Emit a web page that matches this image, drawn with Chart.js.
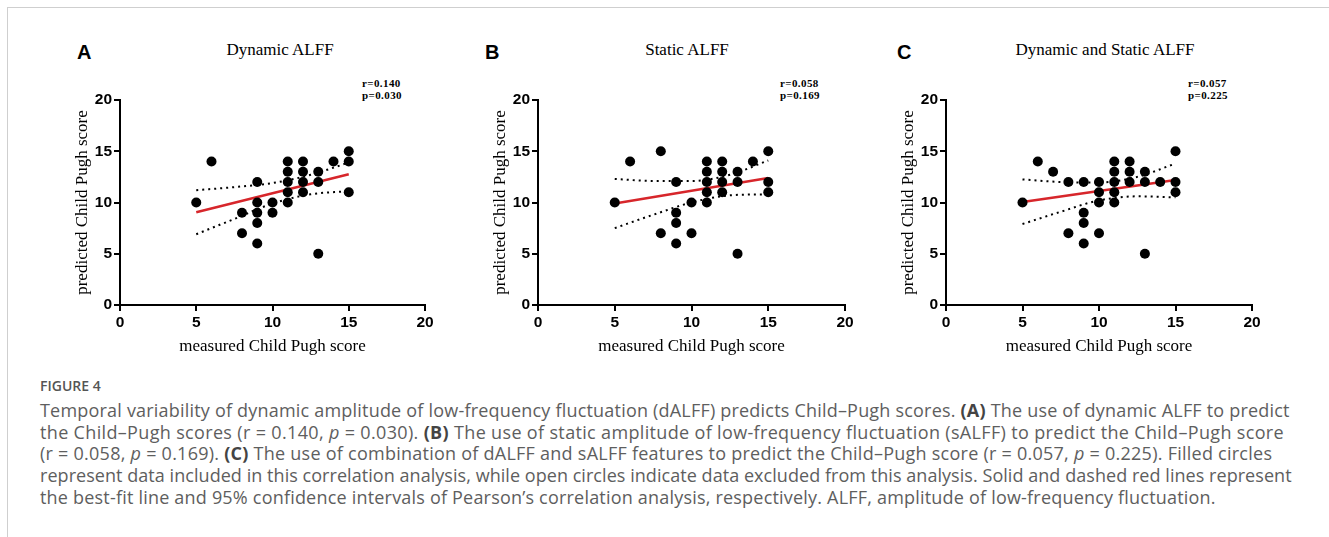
<!DOCTYPE html>
<html>
<head>
<meta charset="utf-8">
<script src="https://cdn.jsdelivr.net/npm/chart.js@4.4.1/dist/chart.umd.min.js"></script>
<style>
  html, body { margin: 0; padding: 0; background: #fff; }
  body { width: 1329px; height: 537px; position: relative; overflow: hidden; }
  .frame { position: absolute; left: 7px; top: 7px; width: 1330px; height: 540px;
           border-left: 1.5px solid #cfcfcf; border-top: 1.5px solid #cfcfcf; }
  canvas { position: absolute; top: 80px; }
  .letter { position: absolute; top: 42px; font: bold 20px/20px "Liberation Sans", Arial, sans-serif; color: #000; }
  .ptitle { position: absolute; top: 41px; font: 17px/17px "Liberation Serif", "Times New Roman", serif;
            color: #000; white-space: nowrap; transform: translateX(-50%); }
  .stats { position: absolute; top: 77px; font: bold 11px/12px "Liberation Serif", serif;
           letter-spacing: 0.4px; color: #000; white-space: nowrap; }
  .figno { position: absolute; left: 40px; top: 379px; font: 600 14px/14px "Open Sans", sans-serif; color: #555; }
  .caption { position: absolute; left: 40px; top: 400px; font: 18px/21.7px "Open Sans", sans-serif;
             color: #5e5e5e; white-space: nowrap; }
  .caption div { letter-spacing: 0.2px; }
  .caption b { color: #444; }
</style>
</head>
<body>
<div class="frame"></div>

<div class="letter" style="left:77px">A</div>
<div class="ptitle" style="left:280px">Dynamic ALFF</div>
<div class="stats" style="left:362px">r=0.140<br>p=0.030</div>
<canvas id="chartA" width="385" height="285" style="left:60px"></canvas>

<div class="letter" style="left:485px">B</div>
<div class="ptitle" style="left:687px">Static ALFF</div>
<div class="stats" style="left:780px">r=0.058<br>p=0.169</div>
<canvas id="chartB" width="387" height="285" style="left:478px"></canvas>

<div class="letter" style="left:897px">C</div>
<div class="ptitle" style="left:1105px">Dynamic and Static ALFF</div>
<div class="stats" style="left:1188px">r=0.057<br>p=0.225</div>
<canvas id="chartC" width="386" height="285" style="left:886px"></canvas>

<div class="figno">FIGURE 4</div>
<div class="caption">
<div>Temporal variability of dynamic amplitude of low-frequency fluctuation (dALFF) predicts Child–Pugh scores. <b>(A)</b> The use of dynamic ALFF to predict</div>
<div style="letter-spacing:0.34px">the Child–Pugh scores (r = 0.140, <i>p</i> = 0.030). <b>(B)</b> The use of static amplitude of low-frequency fluctuation (sALFF) to predict the Child–Pugh score</div>
<div style="letter-spacing:0.25px">(r = 0.058, <i>p</i> = 0.169). <b>(C)</b> The use of combination of dALFF and sALFF features to predict the Child–Pugh score (r = 0.057, <i>p</i> = 0.225). Filled circles</div>
<div style="letter-spacing:0.05px">represent data included in this correlation analysis, while open circles indicate data excluded from this analysis. Solid and dashed red lines represent</div>
<div>the best-fit line and 95% confidence intervals of Pearson’s correlation analysis, respectively. ALFF, amplitude of low-frequency fluctuation.</div>
</div>

<script>
// Trục chung cho cả ba panel
const axisMin = 0;
const axisMax = 20;
const tickStep = 5;

// Panel A — Dynamic ALFF: measured (x) vs predicted (y)
const dynMeasured  = [5, 6, 8, 8, 9, 9, 9, 9, 9, 10, 10, 11, 11, 11, 11, 11, 12, 12, 12, 12, 13, 13, 13, 14, 15, 15, 15];
const dynPredicted = [10, 14, 9, 7, 12, 10, 9, 8, 6, 10, 9, 14, 13, 12, 11, 10, 14, 13, 12, 11, 13, 12, 5, 14, 15, 14, 11];

// Panel B — Static ALFF
const staMeasured  = [5, 6, 8, 8, 9, 9, 9, 9, 10, 10, 11, 11, 11, 11, 11, 12, 12, 12, 12, 13, 13, 13, 14, 15, 15, 15];
const staPredicted = [10, 14, 15, 7, 12, 9, 8, 6, 10, 7, 14, 13, 12, 11, 10, 14, 13, 12, 11, 13, 12, 5, 14, 15, 12, 11];

// Panel C — Dynamic and Static ALFF
const bothMeasured  = [5, 6, 7, 8, 8, 9, 9, 9, 9, 10, 10, 10, 10, 11, 11, 11, 11, 11, 12, 12, 12, 13, 13, 13, 14, 15, 15, 15];
const bothPredicted = [10, 14, 13, 12, 7, 12, 9, 8, 6, 12, 11, 10, 7, 14, 13, 12, 11, 10, 14, 13, 12, 13, 12, 5, 12, 15, 12, 11];

// Đường hồi quy (đọc hai đầu mút từ hình)
const fitX = [5, 15];
const dynFit  = [9.05, 12.75];
const staFit  = [9.9, 12.4];
const bothFit = [10.05, 12.2];

// Khoảng tin cậy 95% (đọc tại vài mốc x)
const ciX = [5, 7.5, 10, 12.5, 15];
const dynUpper  = [11.2, 11.5, 11.9, 12.7, 13.9];
const dynLower  = [6.9, 8.4, 9.9, 10.8, 11.1];
const staUpper  = [12.3, 12.1, 12.1, 12.7, 14.1];
const staLower  = [7.5, 8.8, 10.0, 10.7, 10.8];
const bothUpper = [12.25, 12.0, 11.95, 12.5, 13.8];
const bothLower = [7.9, 9.1, 10.2, 10.6, 10.5];

const toXY = (xs, ys) => xs.map((x, i) => ({ x, y: ys[i] }));

const axisCommon = (titleText, fit) => ({
    type: 'linear', min: axisMin, max: axisMax,
    ticks: {
        stepSize: tickStep, color: '#000', padding: 2,
        font: { family: '"Liberation Sans", Arial, sans-serif', size: 15.5, weight: 'bold' },
    },
    grid: { display: true, drawOnChartArea: false, drawTicks: true, tickLength: 6, color: '#000', lineWidth: 2 },
    border: { display: true, color: '#000', width: 2 },
    title: {
        display: true, text: titleText, color: '#000',
        font: { family: '"Liberation Serif", "Times New Roman", serif', size: 17 },
    },
    afterFit: fit,
});

function makePanel(id, xs, ys, fitY, upper, lower) {
    const dotted = (data) => ({
        type: 'line', data: toXY(ciX, data),
        borderColor: '#000', borderWidth: 2, borderDash: [2, 4], borderCapStyle: 'butt',
        pointRadius: 0, tension: 0.4, cubicInterpolationMode: 'monotone', fill: false,
    });
    new Chart(document.getElementById(id), {
        type: 'scatter',
        data: {
            datasets: [
                { data: toXY(xs, ys), pointRadius: 5, pointHoverRadius: 5,
                  backgroundColor: '#000', borderWidth: 0 },
                { type: 'line', data: toXY(fitX, fitY), borderColor: '#d7262b', borderWidth: 2.5,
                  pointRadius: 0, fill: false },
                dotted(upper),
                dotted(lower),
            ],
        },
        options: {
            responsive: false, animation: false, events: [],
            layout: { padding: { left: 8, right: 20, top: 20, bottom: 4 } },
            plugins: { legend: { display: false }, tooltip: { enabled: false } },
            scales: {
                x: axisCommon('measured Child Pugh score', (s) => { s.height = 56; }),
                y: axisCommon('predicted Child Pugh score', (s) => { s.width = 52; }),
            },
        },
    });
}

makePanel('chartA', dynMeasured, dynPredicted, dynFit, dynUpper, dynLower);
makePanel('chartB', staMeasured, staPredicted, staFit, staUpper, staLower);
makePanel('chartC', bothMeasured, bothPredicted, bothFit, bothUpper, bothLower);
</script>
</body>
</html>
